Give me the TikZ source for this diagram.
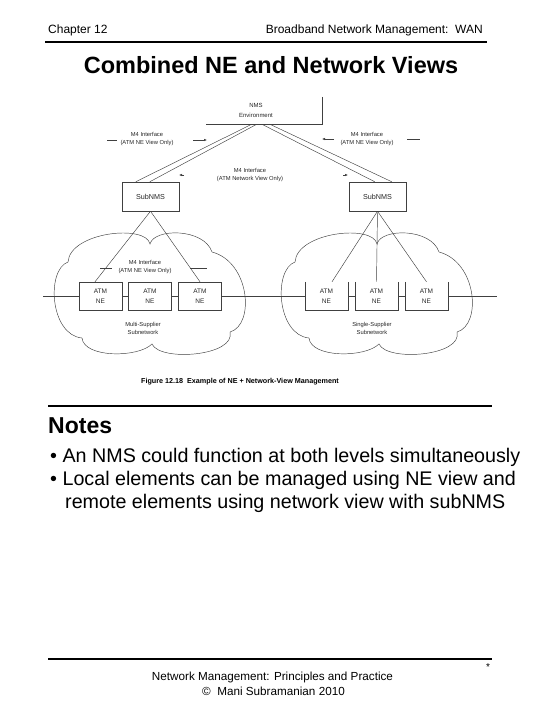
\documentclass[tikz,border=0pt]{standalone}
\usepackage{fontspec}
\setmainfont{Liberation Sans}
\usetikzlibrary{arrows.meta,calc}
\begin{document}
\begin{tikzpicture}[x=1pt,y=-1pt,
  figline/.style={draw=black!75, line width=0.45pt},
  figarrow/.style={figline, -{Latex[length=3pt,width=2.4pt]}},
  figtxt/.style={font=\fontsize{5.8}{8}\selectfont, text=black!85, align=center, inner sep=0pt},
  nebox/.style={minimum width=43pt, minimum height=28pt, inner sep=0pt, font=\fontsize{6.5}{10}\selectfont, align=center, text=black!85},
  subbox/.style={figline, minimum width=57pt, minimum height=29pt, inner sep=0pt, font=\fontsize{7.2}{9}\selectfont, text=black!85},
  rulel/.style={line width=2pt},
  plain/.style={inner sep=0pt, anchor=base west}
]
\useasboundingbox (0,0) rectangle (540,720);

% header
\node[plain, font=\fontsize{12}{14}\selectfont] (chap) at (48,33) {Chapter 12};
\node[plain, anchor=base east, font=\fontsize{12}{14}\selectfont] (book) at (483,33) {Broadband Network Management:\ \ WAN};
\coordinate (hl1) at (45,42); \coordinate (hr1) at (487,42);
\draw[rulel] (hl1) -- (hr1);
\node[plain, anchor=base, font=\bfseries\fontsize{23.5}{28}\selectfont] (title) at (271,73) {Combined NE and Network Views};

% NMS environment
\node[minimum width=116pt, minimum height=27pt, inner sep=0pt] (nmsbox) at (264,110.5) {};
\draw[figline] (nmsbox.north east) -- (nmsbox.south east) -- (nmsbox.south west);
\node[figtxt, font=\fontsize{6}{10}\selectfont] (nmstxt) at (256,110.5) {NMS\\Environment};

% SubNMS boxes
\node[subbox] (s1) at (150.5,196.5) {SubNMS};
\node[subbox] (s2) at (377.5,196.5) {SubNMS};

% double links
\draw[figline] ($(nmsbox.south west)+(46,0)$) -- ($(s1.north west)+(14,0)$);
\draw[figline] ($(nmsbox.south west)+(51,0)$) -- ($(s1.north west)+(28,0)$);
\draw[figline] ($(nmsbox.south west)+(56,0)$) -- ($(s2.north west)+(26,0)$);
\draw[figline] ($(nmsbox.south west)+(64,0)$) -- ($(s2.north west)+(43,0)$);

% M4 labels
\node[figtxt] (m4l) at (147,139) {M4 Interface\\(ATM NE View Only)};
\node[figtxt] (m4r) at (367,139) {M4 Interface\\(ATM NE View Only)};
\node[figtxt] (m4m) at (250,175) {M4 Interface\\(ATM Network View Only)};
\coordinate (dl1) at (107,140); \coordinate (dl2) at (117,140);
\coordinate (al1) at (193,140); \coordinate (al2) at (207,140);
\draw[figline] (dl1) -- (dl2);
\draw[figarrow] (al1) -- (al2);
\coordinate (ar1) at (334,139); \coordinate (ar2) at (322,139);
\coordinate (dr1) at (407,139); \coordinate (dr2) at (420,139);
\draw[figarrow] (ar1) -- (ar2);
\draw[figline] (dr1) -- (dr2);
\coordinate (am1) at (184,175); \coordinate (am2) at (179,175);
\coordinate (am3) at (343,175); \coordinate (am4) at (348,175);
\draw[figarrow] (am1) -- (am2);
\draw[figarrow] (am3) -- (am4);

% ATM NE boxes
\node[nebox, figline] (b1) at (100.5,296) {ATM\\NE};
\node[nebox, figline] (b2) at (150,296) {ATM\\NE};
\node[nebox, figline] (b3) at (200,296) {ATM\\NE};
\node[nebox] (b4) at (326.5,296) {ATM\\NE};
\node[nebox] (b5) at (376.5,296) {ATM\\NE};
\node[nebox] (b6) at (426.5,296) {ATM\\NE};
\foreach \b in {b4,b5,b6}{
  \draw[figline] (\b.north west) -- (\b.south west) -- (\b.south east) -- (\b.north east);
}

% through line
\coordinate (hl) at (43,296); \coordinate (hr) at (497,296);
\draw[figline] (hl) -- (b1.west);
\draw[figline] (b1.east) -- (b2.west);
\draw[figline] (b2.east) -- (b3.west);
\draw[figline] (b3.east) -- (b4.west);
\draw[figline] (b4.east) -- (b5.west);
\draw[figline] (b5.east) -- (b6.west);
\draw[figline] (b6.east) -- (hr);

% links from SubNMS to NEs
\draw[figline] (s1.south) -- ($(b1.north)+(-5.5,0)$);
\draw[figline] (s1.south) -- (b3.north);
\draw[figline] (s2.south) -- ($(b4.north)+(5.5,0)$);
\draw[figline] (s2.south) -- (b5.north);
\draw[figline] (s2.south) -- (b6.north);

% lower M4 label
\node[figtxt] (m4low) at (145,267) {M4 Interface\\(ATM NE View Only)};
\coordinate (ld1) at (100,268); \coordinate (ld2) at (112,268);
\coordinate (ld3) at (190,268); \coordinate (ld4) at (207,268);
\draw[figline] (ld1) -- (ld2);
\draw[figline] (ld3) -- (ld4);

% clouds
\foreach \dx in {0,227}{
\draw[figline, xshift=\dx pt]
  (150,244) .. controls (154,228) and (204,228) .. (212,252)
  .. controls (250,262) and (255,325) .. (230,332)
  .. controls (236,356) and (160,362) .. (152,344)
  .. controls (138,358) and (84,358) .. (82,338)
  .. controls (50,335) and (46,270) .. (68,262)
  .. controls (70,232) and (146,224) .. (150,244) -- cycle;
}
\node[figtxt] (c1txt) at (143,328.5) {Multi-Supplier\\Subnetwork};
\node[figtxt] (c2txt) at (372,328.5) {Single-Supplier\\Subnetwork};

% caption
\node[inner sep=0pt, font=\bfseries\fontsize{7.2}{8}\selectfont] (cap) at (240,382) {Figure 12.18\ \ Example of NE + Network-View Management};

% notes
\coordinate (nl1) at (48,406); \coordinate (nr1) at (492,406);
\draw[rulel] (nl1) -- (nr1);
\node[plain, font=\bfseries\fontsize{23}{28}\selectfont] (notes) at (48,433) {Notes};
\node[plain, font=\fontsize{19.7}{23}\selectfont] (n1) at (50,462) {• An NMS could function at both levels simultaneously};
\node[plain, font=\fontsize{19.7}{23}\selectfont] (n2) at (50,485) {• Local elements can be managed using NE view and};
\node[plain, font=\fontsize{19.7}{23}\selectfont] (n3) at (65,508) {remote elements using network view with subNMS};

% footer
\coordinate (fl1) at (48,659); \coordinate (fr1) at (492,659);
\draw[rulel] (fl1) -- (fr1);
\node[inner sep=0pt, font=\fontsize{10}{12}\selectfont] (star) at (488,667) {*};
\node[plain, anchor=base, font=\fontsize{11.7}{14}\selectfont] (f1) at (272.5,680) {Network Management: Principles and Practice};
\node[plain, anchor=base, font=\fontsize{11.7}{14}\selectfont] (f2) at (273.5,695) {©\ \ Mani Subramanian 2010};
\end{tikzpicture}
\end{document}
